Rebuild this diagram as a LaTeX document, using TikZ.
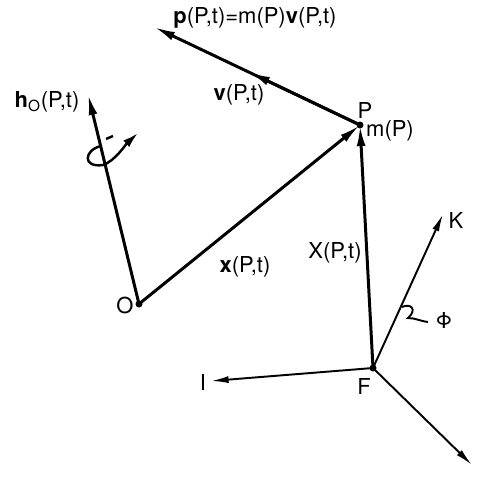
\documentclass[tikz,border=0pt]{standalone}
\usepackage{fontspec}
\setmainfont{TeX Gyre Heros}
\usetikzlibrary{arrows.meta}

\tikzset{
  vecline/.style={line width=1.7pt, -{Latex[length=12pt,width=5pt]}},
  axisline/.style={line width=1.1pt, -{Latex[length=10pt,width=4pt]}},
  lbl/.style={inner sep=1pt, font=\fontsize{12.5}{14}\selectfont},
}

\begin{document}
\begin{tikzpicture}[x=0.2mm,y=-0.2mm]
    \useasboundingbox (0,0) rectangle (482,484);

    \coordinate (O) at (139,304);
    \coordinate (P) at (360,125);
    \coordinate (F) at (373,368);
    \coordinate (htip) at (88,94);
    \coordinate (vtip) at (249,72);
    \coordinate (ptip) at (154,27);
    \coordinate (Ktip) at (443,214);
    \coordinate (Itip) at (211,381);
    \coordinate (Jtip) at (472,465);

    % position vectors
    \draw[vecline] (O) -- (htip);
    \draw[vecline] (O) -- (P);
    \draw[vecline] (F) -- (P);
    \draw[vecline] (P) -- (ptip);
    \draw[vecline] (P) -- (vtip);

    % inertial frame at F
    \draw[axisline] (F) -- (Ktip);
    \draw[axisline] (F) -- (Itip);
    \draw[axisline] (F) -- (Jtip);

    \fill (O) circle (3.5);
    \fill (P) circle (3.5);
    \fill (F) circle (3.5);

    % turning about h_O
    \draw[line width=1.4pt] (106,139) -- (113,136);
    \draw[line width=1.4pt, -{Latex[length=9pt,width=5pt]}]
        (101,146) .. controls (84,150) and (82,168) .. (103,165)
        .. controls (115,161) and (126,144) .. (138,133);

    % angle Phi
    \draw[line width=1.1pt] (402,307) .. controls (410,303) and (418,309) .. (408,318)
        .. controls (415,318) and (420,321) .. (428,322);

    \node[lbl] (ptext) at (255,18) {\textbf{p}(P,t)=m(P)\textbf{v}(P,t)};
    \node[lbl] (vtext) at (239,95) {\textbf{v}(P,t)};
    \node[lbl] (htext) at (47,102) {\textbf{h}\textsubscript{O}(P,t)};
    \node[lbl] (xtext) at (245,267) {\textbf{x}(P,t)};
    \node[lbl] (Xtext) at (335,253) {X(P,t)};
    \node[lbl] (Ptext) at (365,110) {P};
    \node[lbl] (mtext) at (390,131) {m(P)};
    \node[lbl] (Otext) at (125,305) {O};
    \node[lbl] (Ftext) at (364,386) {F};
    \node[lbl] (Ktext) at (456,220) {K};
    \node[lbl] (Itext) at (203,382) {I};
    \node[lbl] (Phitext) at (444,320) {Φ};
\end{tikzpicture}
\end{document}
